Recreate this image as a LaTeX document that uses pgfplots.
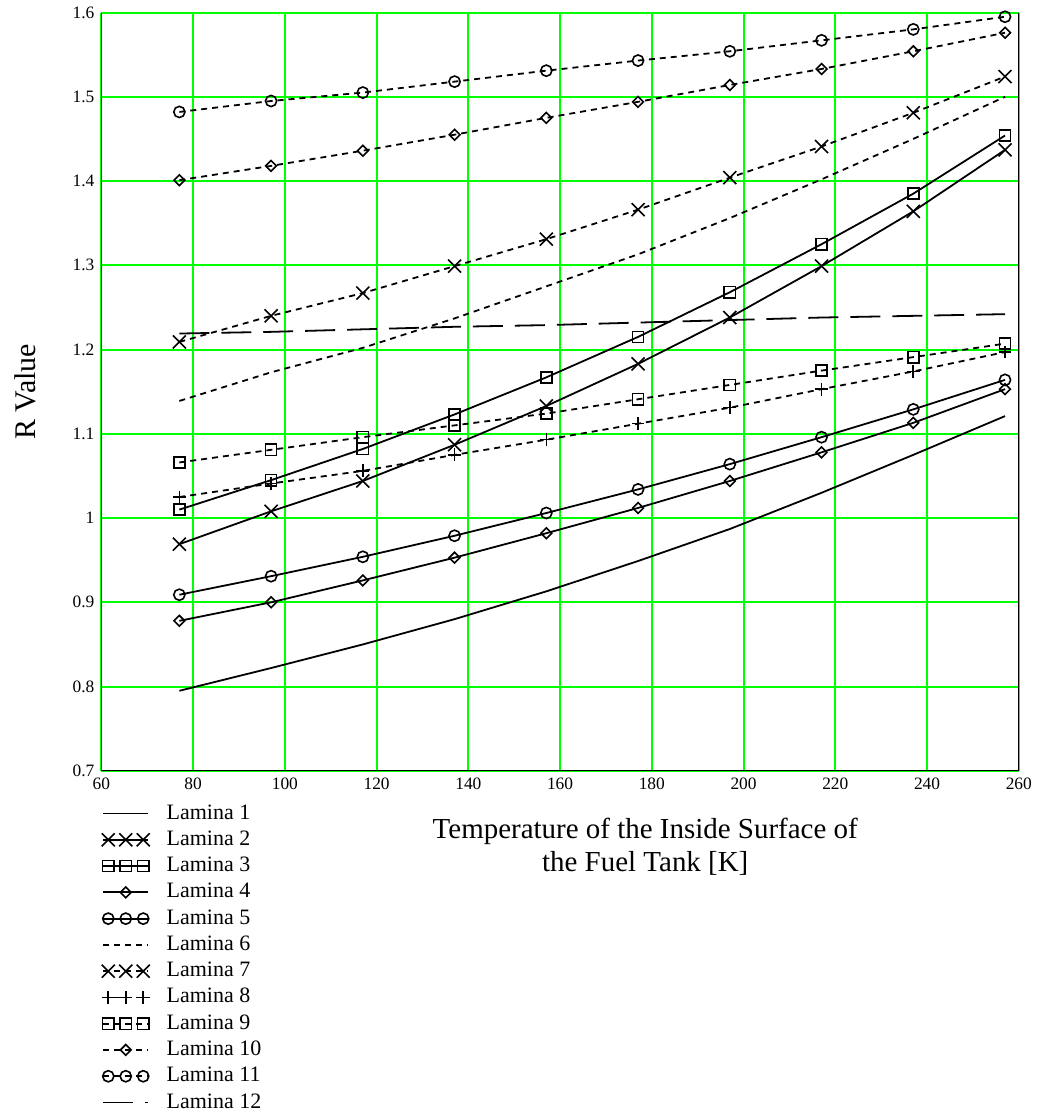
\documentclass[border=0pt]{standalone}
\usepackage{fontspec}
\setmainfont{Liberation Serif}
\usepackage{pgfplots}
\pgfplotsset{compat=1.18}
\definecolor{gridgreen}{RGB}{0,255,0}
\pgfplotsset{
  legthree/.style={legend image code/.code={\draw[mark indices={2,3,4}] plot coordinates {(0pt,0pt) (2.5pt,0pt) (11.25pt,0pt) (20pt,0pt) (22.5pt,0pt)};}},
  legmid/.style={legend image code/.code={\draw[mark indices={2}] plot coordinates {(0pt,0pt) (11.25pt,0pt) (22.5pt,0pt)};}},
  sol/.style={black, line width=0.9pt, solid},
  dsh/.style={black, line width=0.9pt, dash pattern=on 3pt off 2.5pt},
  mk/.style={mark options={solid, line width=0.8pt, fill=none}},
  mkd/.style={mark options={solid, line width=0.8pt, fill=none, rotate=45}},
}
\begin{document}
\begin{tikzpicture}
\begin{axis}[
  name=ax, at={(0,0)}, anchor=south west,
  scale only axis, width=459.25pt, height=379.6pt,
  xmin=60, xmax=260, ymin=0.7, ymax=1.6,
  xtick={60,80,100,120,140,160,180,200,220,240,260},
  ytick={0.7,0.8,0.9,1,1.1,1.2,1.3,1.4,1.5,1.6},
  yticklabels={0.7,0.8,0.9,1,1.1,1.2,1.3,1.4,1.5,1.6},
  major tick length=0pt,
  grid=major, major grid style={gridgreen, line width=1pt},
  axis line style={draw=none},
  tick label style={font=\fontsize{8.7}{10}\selectfont},
  /pgf/number format/assume math mode=true,
  xlabel={Temperature of the Inside Surface of\\the Fuel Tank [K]},
  xlabel style={at={(axis description cs:0.5928,-0.1001)}, anchor=center, align=center, font=\fontsize{14.5}{17}\selectfont},
  ylabel={R Value},
  ylabel style={at={(axis description cs:-0.0833,0.5)}, anchor=center, font=\fontsize{15}{17}\selectfont},
  legend cell align=left,
  legend style={at={(axis description cs:0,-0.042)}, anchor=north west, draw=none, fill=none, inner sep=0pt,
    column sep=8.5pt, row sep=2.65pt,
    nodes={inner sep=0pt, text height=8pt, text depth=2.5pt, font=\fontsize{11}{13}\selectfont}},
  legthree,
]
% Lamina 1
\addplot[sol, mark=none] coordinates {(77,0.795) (97,0.822) (117,0.850) (137,0.880) (157,0.913) (177,0.949) (197,0.987) (217,1.030) (237,1.075) (257,1.121)};
\addlegendentry{Lamina 1}
% Lamina 2
\addplot[sol, mark=x, mark size=4.6pt, mk] coordinates {(77,0.969) (97,1.008) (117,1.044) (137,1.087) (157,1.133) (177,1.183) (197,1.238) (217,1.299) (237,1.364) (257,1.437)};
\addlegendentry{Lamina 2}
% Lamina 3
\addplot[sol, mark=square, mark size=2.8pt, mk] coordinates {(77,1.010) (97,1.045) (117,1.082) (137,1.123) (157,1.167) (177,1.215) (197,1.268) (217,1.325) (237,1.385) (257,1.454)};
\addlegendentry{Lamina 3}
% Lamina 4
\addplot[sol, mark=square, mark size=1.9pt, mkd, legmid] coordinates {(77,0.878) (97,0.900) (117,0.926) (137,0.953) (157,0.982) (177,1.012) (197,1.044) (217,1.078) (237,1.113) (257,1.153)};
\addlegendentry{Lamina 4}
% Lamina 5
\addplot[sol, mark=o, mark size=2.8pt, mk] coordinates {(77,0.909) (97,0.931) (117,0.954) (137,0.979) (157,1.006) (177,1.034) (197,1.064) (217,1.096) (237,1.129) (257,1.164)};
\addlegendentry{Lamina 5}
% Lamina 6
\addplot[dsh, mark=none] coordinates {(77,1.139) (97,1.173) (117,1.202) (137,1.237) (157,1.275) (177,1.313) (197,1.356) (217,1.402) (237,1.450) (257,1.500)};
\addlegendentry{Lamina 6}
% Lamina 7
\addplot[dsh, mark=x, mark size=4.6pt, mk] coordinates {(77,1.209) (97,1.240) (117,1.267) (137,1.299) (157,1.331) (177,1.366) (197,1.404) (217,1.441) (237,1.481) (257,1.524)};
\addlegendentry{Lamina 7}
% Lamina 8
\addplot[dsh, mark=+, mark size=3.2pt, mk] coordinates {(77,1.025) (97,1.041) (117,1.056) (137,1.075) (157,1.093) (177,1.112) (197,1.131) (217,1.153) (237,1.174) (257,1.197)};
\addlegendentry{Lamina 8}
% Lamina 9
\addplot[dsh, mark=square, mark size=2.8pt, mk] coordinates {(77,1.066) (97,1.081) (117,1.096) (137,1.110) (157,1.124) (177,1.141) (197,1.158) (217,1.175) (237,1.191) (257,1.207)};
\addlegendentry{Lamina 9}
% Lamina 10
\addplot[dsh, mark=square, mark size=1.9pt, mkd, legmid] coordinates {(77,1.401) (97,1.418) (117,1.436) (137,1.455) (157,1.475) (177,1.494) (197,1.514) (217,1.533) (237,1.554) (257,1.576)};
\addlegendentry{Lamina 10}
% Lamina 11
\addplot[dsh, mark=o, mark size=2.8pt, mk] coordinates {(77,1.482) (97,1.495) (117,1.505) (137,1.518) (157,1.531) (177,1.543) (197,1.554) (217,1.567) (237,1.580) (257,1.595)};
\addlegendentry{Lamina 11}
% Lamina 12
\addplot[black, line width=0.9pt, dash pattern=on 15pt off 6pt, mark=none] coordinates {(77,1.219) (97,1.221) (117,1.224) (137,1.227) (157,1.229) (177,1.232) (197,1.235) (217,1.238) (237,1.240) (257,1.242)};
\addlegendentry{Lamina 12}
\draw[black, line width=1pt] (rel axis cs:0,1) -- (rel axis cs:0,0) -- (rel axis cs:1,0) -- (rel axis cs:1,1);
\end{axis}
\path (-50.75pt,-171.15pt) rectangle (471.25pt,385.35pt);
\end{tikzpicture}
\end{document}
